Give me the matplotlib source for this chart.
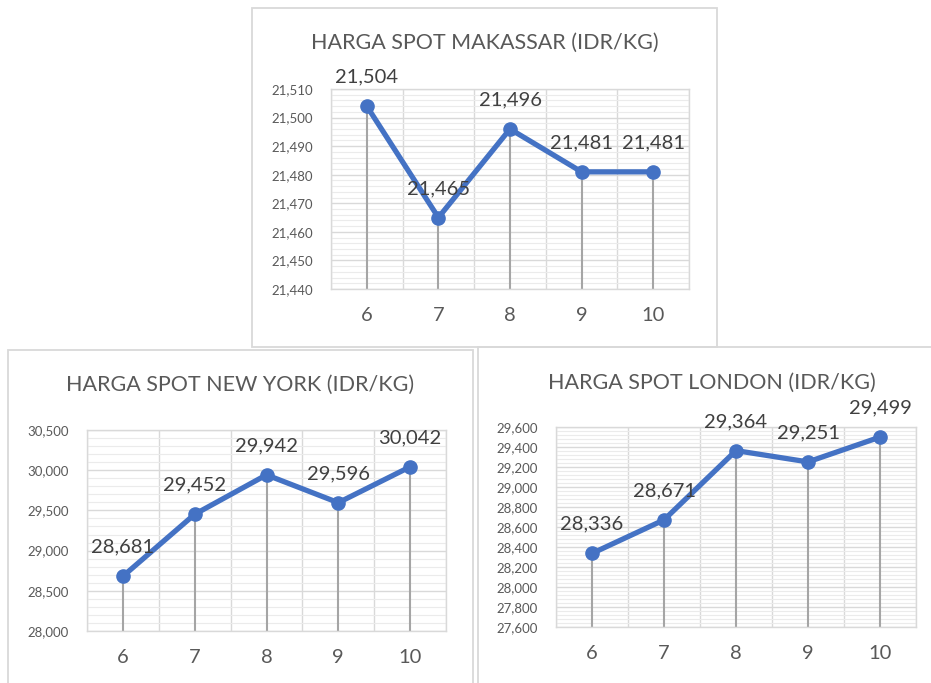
import matplotlib
matplotlib.use("Agg")
import matplotlib.pyplot as plt
from matplotlib.patches import Rectangle
from matplotlib.ticker import MultipleLocator, FuncFormatter, FixedLocator

plt.rcParams['font.family'] = ['Lato', 'DejaVu Sans']

categories = ["6", "7", "8", "9", "10"]

makassar_values = [21504, 21465, 21496, 21481, 21481]
newyork_values = [28681, 29452, 29942, 29596, 30042]
london_values = [28336, 28671, 29364, 29251, 29499]

titles = ["HARGA SPOT MAKASSAR (IDR/KG)", "HARGA SPOT NEW YORK (IDR/KG)", "HARGA SPOT LONDON (IDR/KG)"]

W, H = 931, 683
fig = plt.figure(figsize=(W / 100, H / 100), dpi=100)
fig.patch.set_facecolor("white")


def fig_rect(l, t, r, b):
    return [l / W, 1 - b / H, (r - l) / W, (b - t) / H]


def panel_box(l, t, r, b):
    rect = Rectangle((l / W, 1 - b / H), (r - l) / W, (b - t) / H,
                     transform=fig.transFigure, fill=False,
                     edgecolor="#D9D9D9", linewidth=1.3, zorder=0)
    fig.add_artist(rect)


def draw_panel(values, title, box, axbox, ylim, major, minor, title_y):
    l, t, r, b = box
    panel_box(l, t, r, b)
    fig.text(((l + r) / 2) / W, 1 - title_y / H, title, ha="center", va="center",
             fontsize=15.5, color="#595959")
    ax = fig.add_axes(fig_rect(*axbox))
    x = list(range(len(values)))
    ax.set_xlim(-0.5, len(values) - 0.5)
    ax.set_ylim(*ylim)
    ax.yaxis.set_major_locator(MultipleLocator(major))
    ax.yaxis.set_minor_locator(MultipleLocator(minor))
    ax.yaxis.set_major_formatter(FuncFormatter(lambda v, p: f"{v:,.0f}"))
    ax.set_xticks(x)
    ax.set_xticklabels(categories)
    ax.xaxis.set_minor_locator(FixedLocator([i - 0.5 for i in range(len(values) + 1)]))
    ax.grid(which="minor", axis="y", color="#EBEBEB", linewidth=0.8, zorder=0)
    ax.grid(which="major", axis="y", color="#D9D9D9", linewidth=1.0, zorder=0)
    ax.grid(which="minor", axis="x", color="#D9D9D9", linewidth=1.0, zorder=0)
    ax.tick_params(axis="y", which="both", length=0, pad=13, labelsize=9.5, labelcolor="#595959")
    ax.tick_params(axis="x", which="both", length=0, pad=13, labelsize=14.5, labelcolor="#595959")
    for s in ax.spines.values():
        s.set_color("#D9D9D9")
        s.set_linewidth(1.0)
    ax.vlines(x, ylim[0], values, color="#A5A5A5", linewidth=1.5, zorder=2)
    ax.plot(x, values, color="#4472C4", linewidth=3.8, marker="o", markersize=9.5,
            zorder=3, solid_capstyle="round")
    for xi, v in zip(x, values):
        ax.annotate(f"{v:,}", (xi, v), xytext=(0, 21), textcoords="offset points",
                    ha="center", va="center", fontsize=14.5, color="#404040", zorder=4,
                    annotation_clip=False)
    return ax


draw_panel(makassar_values, titles[0], (252, 8, 717, 347), (331, 89, 689, 289),
           (21440, 21510), 10, 2, 43)
draw_panel(newyork_values, titles[1], (8, 350, 473, 700), (87, 430, 446, 631),
           (28000, 30500), 500, 100, 385)
draw_panel(london_values, titles[2], (478, 347, 945, 700), (556, 427, 916, 627),
           (27600, 29600), 200, 40, 383)

fig.savefig("out.png", dpi=100, facecolor="white")
